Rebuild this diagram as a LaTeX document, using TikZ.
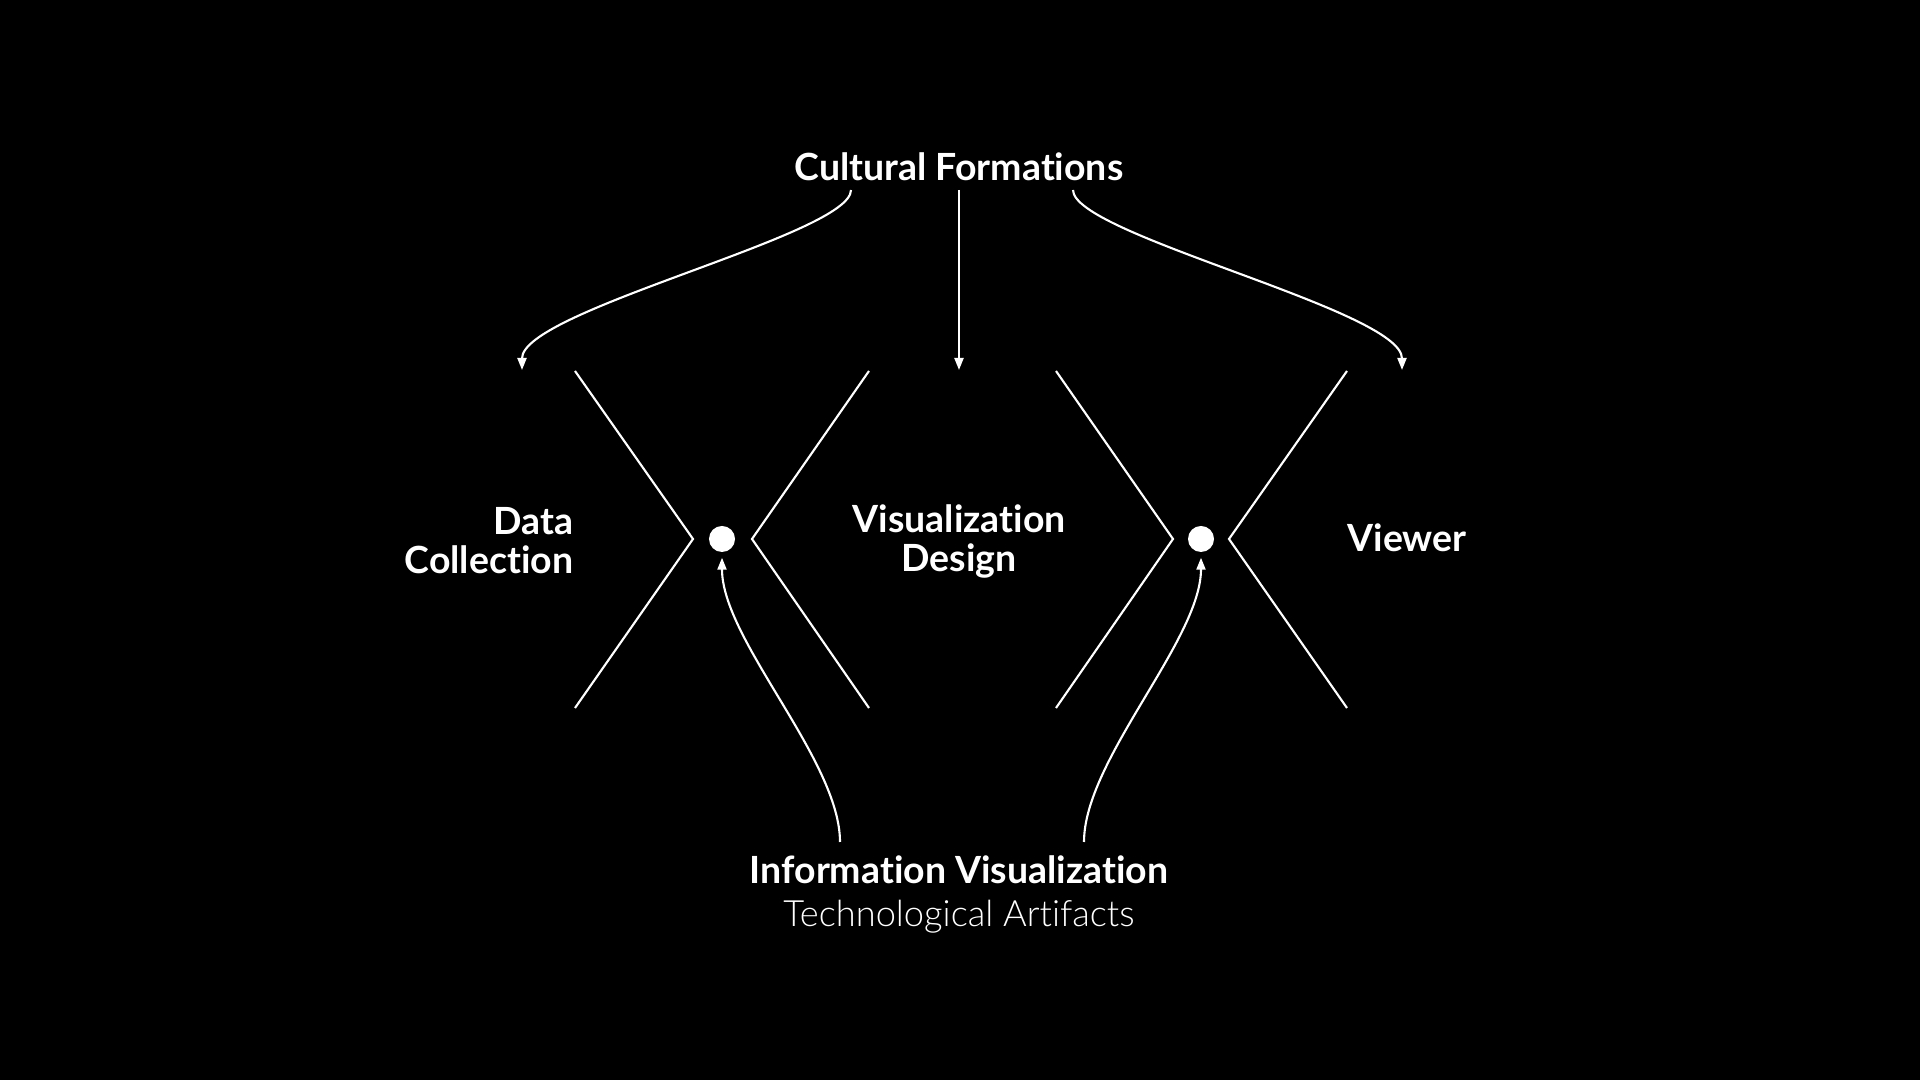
\documentclass[tikz,border=0pt]{standalone}
\usepackage{fontspec}
\setmainfont{Lato}[Ligatures=NoCommon]
\newfontfamily\lightfont{Lato Light}[Ligatures=NoCommon]
\usetikzlibrary{arrows.meta}

\begin{document}
\begin{tikzpicture}[x=0.01cm, y=-0.01cm,
          lbl/.style={text=white, inner sep=0pt,
                      font=\fontsize{10.65}{11.1}\selectfont\bfseries},
          arr/.style={-{Triangle[length=0.12cm, width=0.09cm]}, white, line width=0.6pt},
          chev/.style={white, line width=0.6pt},
          dot/.style={circle, fill=white, minimum size=0.26cm, inner sep=0pt}
        ]
          \fill[black] (0,0) rectangle (1920,1080);
          % labels
          \node[lbl, anchor=base] (cult) at (959,181) {Cultural Formations};
          \node[lbl, align=right, anchor=east] (data) at (574,541) {Data\\Collection};
          \node[lbl, align=center] (design) at (959,541) {Visualization\\Design};
          \node[lbl, anchor=base] (viewer) at (1407,552) {Viewer};
          \node[lbl, anchor=base] (infovis) at (959,884) {Information Visualization};
          \node[lbl, anchor=base, font=\fontsize{10.3}{11.1}\selectfont\lightfont] (techart) at (959,927) {Technological Artifacts};
          % joints
          \node[dot] (dotl) at (722,539) {};
          \node[dot] (dotr) at (1201,539) {};
          % chevrons
          \draw[chev] (575,371) -- (693,539) -- (575,708);
          \draw[chev] (869,371) -- (752,539) -- (869,708);
          \draw[chev] (1056,371) -- (1173,539) -- (1056,708);
          \draw[chev] (1347,371) -- (1229,539) -- (1347,708);
          % arrows from cultural formations
          \coordinate (cl) at (851,190);
          \coordinate (cm) at (959,190);
          \coordinate (cr) at (1073,190);
          \coordinate (tl) at (522,370);
          \coordinate (tm) at (959,370);
          \coordinate (tr) at (1402,370);
          \draw[arr] (cl) .. controls (851,235) and (522,310) .. (tl);
          \draw[arr] (cm) -- (tm);
          \draw[arr] (cr) .. controls (1073,235) and (1402,310) .. (tr);
          % arrows from information visualization
          \coordinate (il) at (840,842);
          \coordinate (ir) at (1084,842);
          \draw[arr, shorten >=0.05cm] (il) .. controls (840,760) and (722,640) .. (dotl.south);
          \draw[arr, shorten >=0.05cm] (ir) .. controls (1084,760) and (1201,640) .. (dotr.south);
        \end{tikzpicture}
\end{document}
